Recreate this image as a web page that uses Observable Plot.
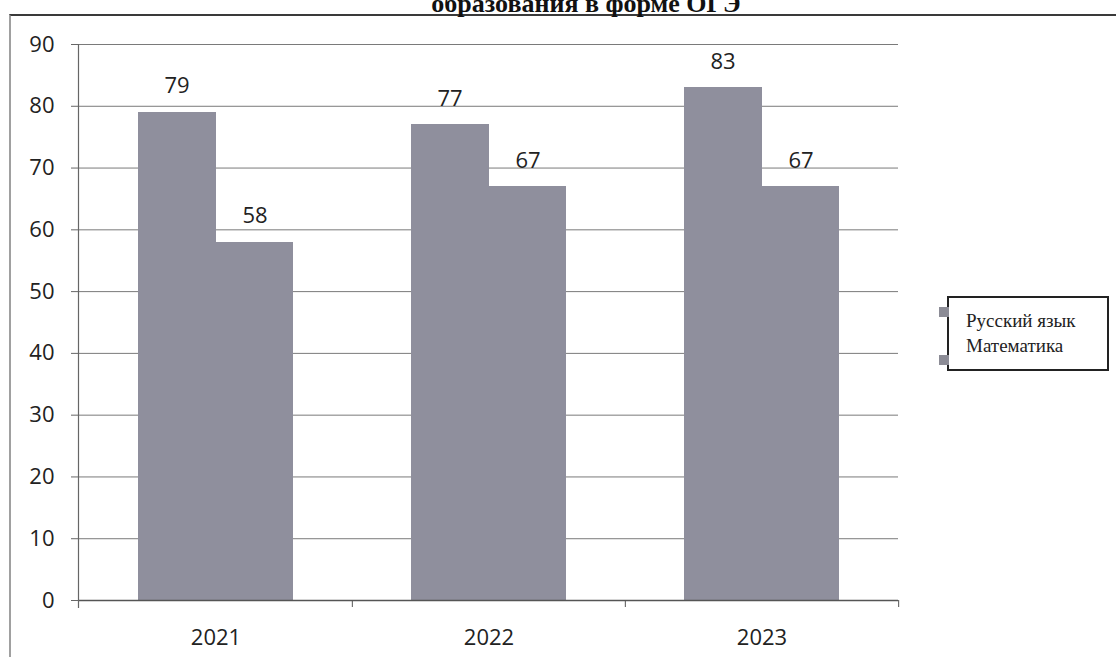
<!DOCTYPE html>
<html>
<head>
<meta charset="utf-8">
<script src="https://cdn.jsdelivr.net/npm/d3@7"></script>
<script src="https://cdn.jsdelivr.net/npm/@observablehq/plot@0.6"></script>
<style>
  html, body { margin: 0; padding: 0; background: #fff; width: 1116px; height: 657px; overflow: hidden; }
  #wrap { position: relative; width: 1116px; height: 657px; }
  #title { position: absolute; top: -9px; left: 586px; transform: translateX(-50%); white-space: nowrap;
    font-family: "Liberation Serif", "DejaVu Serif", serif; font-weight: bold; font-size: 26px; line-height: 26px; color: #111; }
  #frame { position: absolute; left: 9px; top: 14px; width: 1120px; height: 660px;
    border-top: 2px solid #3a3a3a; border-left: 2px solid #a0a0a0; }
  #chart { position: absolute; left: 0; top: 0; }
  #legend { position: absolute; left: 947px; top: 296px; width: 158px; height: 71px; border: 2px solid #222; background: #fff;
    font-family: "Liberation Serif", "DejaVu Serif", serif; font-size: 19px; color: #222; }
  .item { position: absolute; left: 17px; white-space: nowrap; line-height: 19px; }
  .sw { position: absolute; width: 10px; height: 10px; background: #8c8c96; left: -10px; }
</style>
</head>
<body>
<div id="wrap">
  <div id="frame"></div>
  <div id="chart"></div>
  <div id="title">образования в форме ОГЭ</div>
  <div id="legend"></div>
</div>
<script>
const years = ["2021", "2022", "2023"];
const subjects = ["Русский язык", "Математика"];
const russian = [79, 77, 83];
const math = [58, 67, 67];
const yTicks = [0, 10, 20, 30, 40, 50, 60, 70, 80, 90];

const barColor = "#8f8f9d";
const W = 1116, H = 657, mL = 78, mR = 218, mT = 44, mB = 57;
const bw = (W - mL - mR) / years.length;   // band width in px
const barW = 78;

const rowsR = years.map((y, i) => ({year: y, subject: subjects[0], value: russian[i]}));
const rowsM = years.map((y, i) => ({year: y, subject: subjects[1], value: math[i]}));

const chart = Plot.plot({
  width: W, height: H,
  marginLeft: mL, marginRight: mR, marginTop: mT, marginBottom: mB,
  style: {fontFamily: "'Open Sans', 'Liberation Sans', sans-serif", fontSize: "22px", color: "#222", background: "transparent"},
  x: {domain: years, padding: 0, label: null},
  y: {domain: [0, 90], label: null},
  marks: [
    Plot.gridY(yTicks, {stroke: "#7a7a7a", strokeOpacity: 1, strokeWidth: 1}),
    Plot.barY(rowsR, {x: "year", y: "value", fill: barColor, insetLeft: bw / 2 - barW, insetRight: bw / 2 - 1, shapeRendering: "crispEdges"}),
    Plot.barY(rowsM, {x: "year", y: "value", fill: barColor, insetLeft: bw / 2, insetRight: bw / 2 - barW, shapeRendering: "crispEdges"}),
    Plot.text(rowsR, {x: "year", y: "value", text: d => String(d.value), dx: -barW / 2, dy: -19, lineAnchor: "bottom", fill: "#222", fontSize: 22}),
    Plot.text(rowsM, {x: "year", y: "value", text: d => String(d.value), dx: barW / 2, dy: -19, lineAnchor: "bottom", fill: "#222", fontSize: 22}),
    Plot.ruleY([0], {stroke: "#555", strokeWidth: 1.5}),
    Plot.frame({anchor: "left", stroke: "#666", strokeWidth: 1.2, insetBottom: -7}),
    Plot.ruleX(years.slice(1), {x: d => d, y1: 0, y2: 0, dx: -bw / 2, insetBottom: -7, stroke: "#555"}),
    Plot.ruleX(years.slice(-1), {x: d => d, y1: 0, y2: 0, dx: bw / 2, insetBottom: -7, stroke: "#555"}),
    Plot.axisY({ticks: yTicks, tickSize: 7, tickPadding: 17, fontSize: 22, stroke: "#666", fill: "#222"}),
    Plot.axisX({tickSize: 0, tickPadding: 29, fontSize: 22, fill: "#222"})
  ]
});
document.getElementById("chart").appendChild(chart);

const legend = document.getElementById("legend");
const tops = [13, 38];
subjects.forEach((s, i) => {
  const it = document.createElement("div");
  it.className = "item";
  it.style.top = tops[i] + "px";
  it.textContent = s;
  legend.appendChild(it);
  const sw = document.createElement("div");
  sw.className = "sw";
  sw.style.top = (i === 0 ? 9 : 57) + "px";
  legend.appendChild(sw);
});
</script>
</body>
</html>
